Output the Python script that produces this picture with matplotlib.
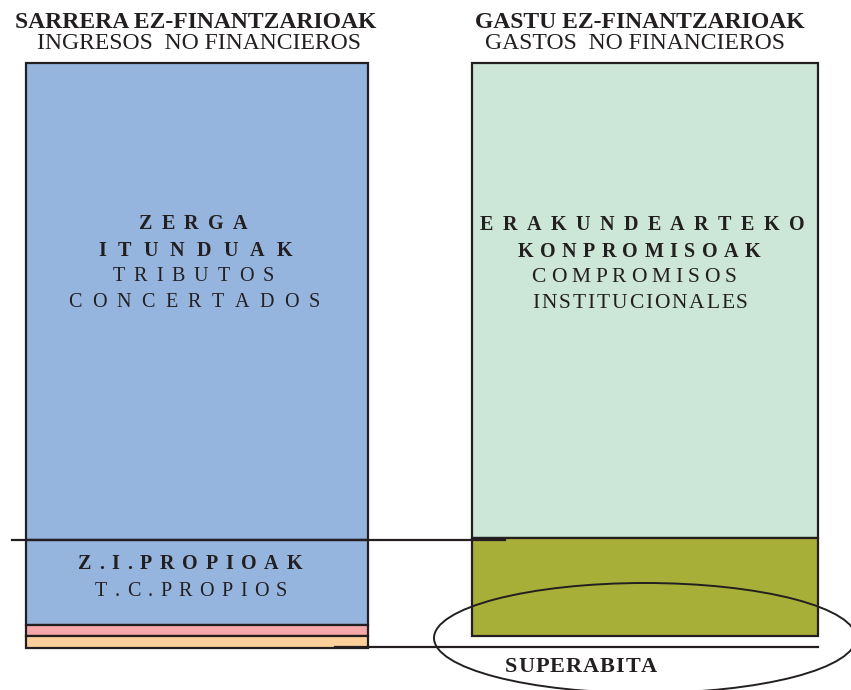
import matplotlib.pyplot as plt
from matplotlib.patches import Ellipse

# stacked column data (pixel-ish units, top to bottom)
left_labels = ['tributos concertados', 'tributos propios', 'otros 1', 'otros 2']
left_values = [477, 85, 11, 12]
left_colors = ['#95B4DE', '#95B4DE', '#F6A8AA', '#FDD09B']
right_labels = ['compromisos institucionales', 'superavit']
right_values = [475, 98]
right_colors = ['#CCE6D7', '#A8AF39']

TXT = '#231F20'
SERIF = 'Liberation Serif'

fig = plt.figure(figsize=(8.51, 6.90), dpi=100)
ax = fig.add_axes([0, 0, 1, 1])
ax.set_xlim(0, 851)
ax.set_ylim(690, 0)
ax.axis('off')
rend = fig.canvas.get_renderer()


def tracked(xc, y, s, width, **kw):
    # letter-spaced text, stretched to a given width (pixels == data units here)
    ws = []
    for ch in s:
        t = ax.text(0, 0, ch, **kw)
        ws.append(t.get_window_extent(rend).width)
        t.remove()
    gap = (width - sum(ws)) / (len(s) - 1)
    x = xc - width / 2
    for ch, w in zip(s, ws):
        ax.text(x, y, ch, ha='left', va='baseline', zorder=5, **kw)
        x += w + gap


top = 63
bottom = top
for v, c in zip(left_values, left_colors):
    ax.bar(197, v, width=342, bottom=bottom, color=c, edgecolor=TXT, lw=1.6, zorder=2)
    bottom += v
bottom = top
for v, c in zip(right_values, right_colors):
    ax.bar(645, v, width=346, bottom=bottom, color=c, edgecolor=TXT, lw=1.6, zorder=2)
    bottom += v

# connector lines
ax.plot([12, 505], [540, 540], color=TXT, lw=1.6, zorder=3)
ax.plot([335, 818], [647, 647], color=TXT, lw=1.6, zorder=3)
ax.add_patch(Ellipse((645, 638), 422, 110, fill=False, ec=TXT, lw=1.4, zorder=4))

# headers
hk = dict(ha='center', va='baseline', fontsize=17, family=SERIF, color=TXT)
ax.text(196, 28, 'SARRERA EZ-FINANTZARIOAK', fontweight='bold', **hk)
ax.text(199, 49, 'INGRESOS  NO FINANCIEROS', **hk)
ax.text(640, 28, 'GASTU EZ-FINANTZARIOAK', fontweight='bold', **hk)
ax.text(635, 49, 'GASTOS  NO FINANCIEROS', **hk)

# labels inside columns
kb = dict(fontsize=14.5, family=SERIF, color=TXT, fontweight='bold')
kn = dict(fontsize=14.5, family=SERIF, color=TXT)
tracked(193, 229, 'ZERGA', 109, **kb)
tracked(195, 256, 'ITUNDUAK', 194, **kb)
tracked(193, 281, 'TRIBUTOS', 161, **kn)
tracked(194, 307, 'CONCERTADOS', 252, **kn)

tracked(642, 230, 'ERAKUNDEARTEKO', 325, **kb)
tracked(639, 257, 'KONPROMISOAK', 242, **kb)
tracked(634, 282, 'COMPROMISOS', 205, fontsize=15.5, family=SERIF, color=TXT)
tracked(640, 308, 'INSTITUCIONALES', 216, fontsize=15.5, family=SERIF, color=TXT)

tracked(190, 569, 'Z.I.PROPIOAK', 224, **kb)
tracked(191, 596, 'T.C.PROPIOS', 192, **kn)

tracked(581, 672, 'SUPERABITA', 152, fontsize=16, family=SERIF, color=TXT, fontweight='bold')

fig.savefig('out.png', dpi=100)
